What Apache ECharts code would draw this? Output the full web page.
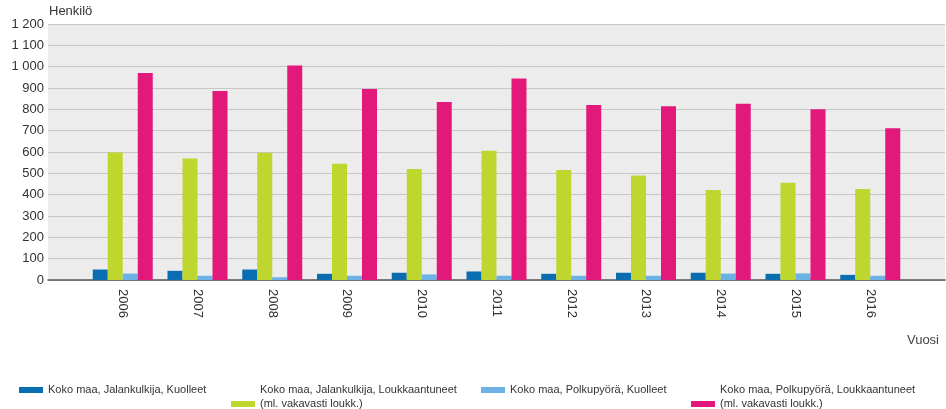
<!DOCTYPE html>
<html>
<head>
<meta charset="utf-8">
<script src="https://cdn.jsdelivr.net/npm/echarts@6/dist/echarts.min.js"></script>
<style>
html,body{margin:0;padding:0;background:#fff;}
#c{width:946px;height:409px;}
</style>
</head>
<body>
<div id="c"></div>
<script>
const years = ['2006','2007','2008','2009','2010','2011','2012','2013','2014','2015','2016'];
const pedDead = [49, 43, 49, 29, 34, 40, 29, 34, 34, 29, 24];
const pedInjured = [598, 570, 597, 545, 520, 606, 516, 490, 422, 456, 427];
const bikeDead = [30, 20, 13, 20, 26, 20, 20, 20, 30, 31, 20];
const bikeInjured = [970, 886, 1006, 895, 834, 944, 820, 814, 826, 800, 711];
const yTicks = [0, 100, 200, 300, 400, 500, 600, 700, 800, 900, 1000, 1100, 1200];

const names = [
  'Koko maa, Jalankulkija, Kuolleet',
  'Koko maa, Jalankulkija, Loukkaantuneet\n(ml. vakavasti loukk.)',
  'Koko maa, Polkupyörä, Kuolleet',
  'Koko maa, Polkupyörä, Loukkaantuneet\n(ml. vakavasti loukk.)'
];
const colors = ['#0b6db1', '#bfd62f', '#6cb2e6', '#e2187b'];
const seriesData = [pedDead, pedInjured, bikeDead, bikeInjured];

const cats = [''].concat(years).concat(['']);
const FONT = '"Liberation Sans", Arial, sans-serif';

const chart = echarts.init(document.getElementById('c'), null, {renderer: 'canvas'});

const legendLeft = [19, 231, 481, 691];
const legends = names.map((n, i) => ({
  show: true,
  data: [n],
  left: legendLeft[i],
  top: 383,
  orient: 'horizontal',
  icon: 'rect',
  itemWidth: 24,
  itemHeight: 6,
  itemGap: 0,
  padding: 0,
  selectedMode: false,
  formatter: (name) => name.indexOf('\n') >= 0 ? name + '\n ' : name,
  textStyle: {fontFamily: FONT, fontSize: 11, color: '#333', lineHeight: 14}
}));

chart.setOption({
  animation: false,
  textStyle: {fontFamily: FONT},
  legend: legends,
  grid: {
    left: 48, right: 1, top: 24, bottom: 129,
    show: true, backgroundColor: '#ececec', borderWidth: 0
  },
  xAxis: {
    type: 'category',
    data: cats,
    boundaryGap: false,
    name: 'Vuosi',
    nameLocation: 'end',
    nameGap: 0,
    nameTextStyle: {
      fontFamily: FONT, fontSize: 13, color: '#444',
      align: 'right', verticalAlign: 'top', padding: [54, 6, 0, 0]
    },
    axisLine: {show: true, lineStyle: {color: '#555', width: 1.5}},
    axisTick: {show: false},
    splitLine: {show: false},
    axisLabel: {
      rotate: -90, margin: 9, interval: 0,
      fontFamily: FONT, fontSize: 13, color: '#333'
    }
  },
  yAxis: {
    type: 'value',
    min: yTicks[0],
    max: yTicks[yTicks.length - 1],
    interval: yTicks[1] - yTicks[0],
    name: 'Henkilö',
    nameLocation: 'end',
    nameGap: 9,
    nameTextStyle: {
      fontFamily: FONT, fontSize: 13, color: '#333',
      align: 'left', verticalAlign: 'middle', padding: [0, 0, 0, 1]
    },
    axisLine: {show: false},
    axisTick: {show: false},
    axisLabel: {
      margin: 4, fontFamily: FONT, fontSize: 13, color: '#333',
      formatter: (v) => String(v).replace(/\B(?=(\d{3})+(?!\d))/g, ' ')
    },
    splitLine: {show: true, lineStyle: {color: '#c6c6c6', width: 1}}
  },
  series: names.map((n, i) => ({
    name: n,
    type: 'bar',
    data: [null].concat(seriesData[i]).concat([null]),
    barWidth: 15,
    barGap: '0%',
    itemStyle: {color: colors[i]}
  }))
});
</script>
</body>
</html>
